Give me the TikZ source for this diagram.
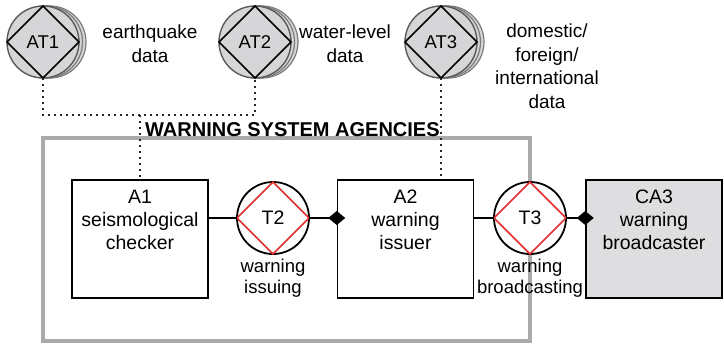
\documentclass[tikz,border=0pt]{standalone}
\usepackage{fontspec}
\setmainfont{Liberation Sans}
\usetikzlibrary{arrows.meta}
\definecolor{agencygray}{RGB}{170,170,170}
\definecolor{actorfill}{RGB}{214,214,216}
\definecolor{actorline}{RGB}{90,90,90}
\definecolor{extfill}{RGB}{222,222,224}
\definecolor{taskred}{RGB}{222,46,46}
\begin{document}
\begin{tikzpicture}[x=1pt,y=-1pt,
  font=\fontsize{19.5}{23}\selectfont,
  agent/.style={draw, line width=1.5pt, minimum width=136pt, minimum height=118pt, inner sep=0pt},
  boxtext/.style={align=center, anchor=north, inner sep=0pt},
  tasknode/.style={circle, draw, line width=1.8pt, fill=white, minimum size=72pt, inner sep=0pt, outer sep=0pt},
  actornode/.style={circle, draw=actorline, line width=1.4pt, fill=actorfill, minimum size=72pt, inner sep=0pt, outer sep=0pt, font=\fontsize{18.5}{22}\selectfont},
  actorshadow/.style={draw=actorline!80, line width=1.2pt, fill=actorfill},
  caption/.style={align=center, anchor=north, inner sep=0pt, font=\fontsize{18.5}{21}\selectfont},
  datatext/.style={align=center, anchor=north, inner sep=0pt, font=\fontsize{19}{23.5}\selectfont},
  dots/.style={black!85, line width=1.8pt, dash pattern=on 1.8pt off 4.2pt},
  link/.style={line width=1.5pt},
  owns/.style={line width=1.5pt, -{Diamond[length=17pt,width=14pt]}, shorten >=-8.5pt},
  rhombus/.style={line width=1.5pt},
  redrhombus/.style={taskred, line width=1.5pt}
]
\useasboundingbox (0,0) rectangle (724,345);

% agencies frame and its title
\node[draw=agencygray, line width=4pt, minimum width=487pt, minimum height=203pt, inner sep=0pt] (agencies) at (286.5,239.5) {};
\node[font=\bfseries\fontsize{20}{24}\selectfont, anchor=base west, inner sep=0pt] (title) at (145,137) {WARNING SYSTEM AGENCIES};

% external actors (stacked circles with a diamond)
\foreach \cx in {43,255,441}{
  \draw[actorshadow] (\cx+7,42) circle[radius=36pt];
  \draw[actorshadow] (\cx+3.5,42) circle[radius=36pt];
}
\node[actornode] (AT1) at (43,42) {AT1};
\node[actornode] (AT2) at (255,42) {AT2};
\node[actornode] (AT3) at (441,42) {AT3};
\foreach \n in {AT1,AT2,AT3}
  \draw[rhombus] (\n.north) -- (\n.east) -- (\n.south) -- (\n.west) -- cycle;

\node[datatext] (d1) at (150,25) {earthquake\\data};
\node[datatext] (d2) at (345,25) {water-level\\data};
\node[datatext] (d3) at (547,24) {domestic/\\foreign/\\international\\data};

% agents
\node[agent] (A1) at (140,239) {};
\node[agent] (A2) at (405.5,239) {};
\node[agent, fill=extfill] (CA3) at (654,239) {};
\node[boxtext] (A1t) at (140,190) {A1\\seismological\\checker};
\node[boxtext] (A2t) at (405.5,190) {A2\\warning\\issuer};
\node[boxtext] (CA3t) at (654,190) {CA3\\warning\\broadcaster};

% tasks
\node[tasknode] (T2) at (273,218) {T2};
\node[tasknode] (T3) at (530,218) {T3};
\foreach \n in {T2,T3}
  \draw[redrhombus] (\n.north) -- (\n.east) -- (\n.south) -- (\n.west) -- cycle;
\node[caption] (T2c) at (273,259) {warning\\issuing};
\node[caption] (T3c) at (530,259) {warning\\broadcasting};

% data supply (dotted)
\coordinate (J) at (140,115);
\draw[dots] (AT1.south) |- (J) -| (AT2.south);
\draw[dots] (J) -- (A1.north);
\draw[dots] (AT3.south) -- (AT3.south |- A2.north);

% task links
\draw[link] (T2.west -| A1.east) -- (T2.west);
\draw[owns] (T2.east) -- (T2.east -| A2.west);
\draw[link] (T3.west -| A2.east) -- (T3.west);
\draw[owns] (T3.east) -- (T3.east -| CA3.west);
\end{tikzpicture}
\end{document}
